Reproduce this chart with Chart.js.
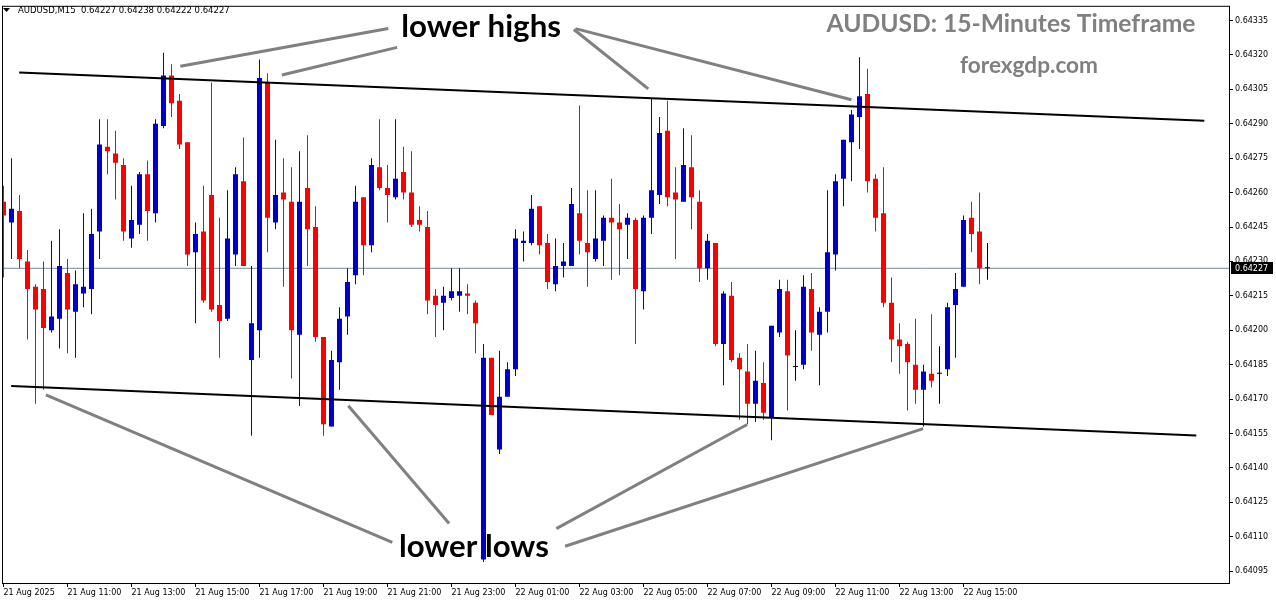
<!DOCTYPE html>
<html>
<head>
<meta charset="utf-8">
<title>AUDUSD M15</title>
<script src="https://cdn.jsdelivr.net/npm/chart.js@4.4.1/dist/chart.umd.min.js"></script>
<style>
    html, body { margin: 0; padding: 0; background: #fff; }
    #wrap { width: 1276px; height: 604px; }
</style>
</head>
<body>
<div id="wrap"><canvas id="chart" width="1276" height="604"></canvas></div>
<script>
// AUDUSD M15 candles, 21 Aug 09:00 -> 22 Aug 15:45 (one entry per 15 min)
const opens = [
    0.64256, 0.64247, 0.64252, 0.64230, 0.64219, 0.64218, 0.64200, 0.64205, 0.64225, 0.64208,
    0.64216, 0.64218, 0.64243, 0.64280, 0.64277, 0.64272, 0.64240, 0.64246, 0.64268, 0.64251,
    0.64289, 0.64311, 0.64300, 0.64282, 0.64234, 0.64243, 0.64259, 0.64211, 0.64205, 0.64233,
    0.64265, 0.64187, 0.64200, 0.64308, 0.64247, 0.64260, 0.64256, 0.64198, 0.64262, 0.64245,
    0.64197, 0.64158, 0.64186, 0.64206, 0.64224, 0.64258, 0.64237, 0.64271, 0.64262, 0.64258,
    0.64269, 0.64260, 0.64248, 0.64245, 0.64215, 0.64212, 0.64214, 0.64215, 0.64216, 0.64212,
    0.64100, 0.64188, 0.64148, 0.64171, 0.64183, 0.64238, 0.64238, 0.64254, 0.64238, 0.64220,
    0.64228, 0.64228, 0.64251, 0.64238, 0.64231, 0.64239, 0.64249, 0.64247, 0.64246, 0.64248,
    0.64217, 0.64249, 0.64259, 0.64287, 0.64260, 0.64256, 0.64271, 0.64256, 0.64227, 0.64238,
    0.64194, 0.64215, 0.64188, 0.64182, 0.64168, 0.64177, 0.64162, 0.64199, 0.64217, 0.64184,
    0.64185, 0.64218, 0.64198, 0.64208, 0.64233, 0.64266, 0.64282, 0.64293, 0.64303, 0.64266,
    0.64251, 0.64212, 0.64196, 0.64194, 0.64185, 0.64174, 0.64181, 0.64181, 0.64183, 0.64211,
    0.64219, 0.64249, 0.64243, 0.64227
];
const highs = [
    0.64263, 0.64275, 0.64259, 0.64235, 0.64220, 0.64230, 0.64239, 0.64244, 0.64231, 0.64226,
    0.64251, 0.64253, 0.64292, 0.64292, 0.64287, 0.64275, 0.64263, 0.64269, 0.64274, 0.64292,
    0.64321, 0.64316, 0.64303, 0.64282, 0.64247, 0.64263, 0.64308, 0.64249, 0.64261, 0.64271,
    0.64284, 0.64228, 0.64318, 0.64312, 0.64283, 0.64275, 0.64271, 0.64278, 0.64285, 0.64254,
    0.64197, 0.64191, 0.64210, 0.64227, 0.64263, 0.64258, 0.64275, 0.64292, 0.64272, 0.64292,
    0.64280, 0.64278, 0.64254, 0.64252, 0.64218, 0.64219, 0.64227, 0.64227, 0.64220, 0.64213,
    0.64194, 0.64188, 0.64191, 0.64186, 0.64244, 0.64243, 0.64259, 0.64254, 0.64242, 0.64240,
    0.64238, 0.64262, 0.64298, 0.64261, 0.64261, 0.64250, 0.64266, 0.64255, 0.64251, 0.64249,
    0.64250, 0.64301, 0.64293, 0.64300, 0.64271, 0.64288, 0.64285, 0.64261, 0.64242, 0.64238,
    0.64217, 0.64221, 0.64190, 0.64194, 0.64191, 0.64186, 0.64202, 0.64222, 0.64222, 0.64200,
    0.64224, 0.64225, 0.64210, 0.64261, 0.64268, 0.64283, 0.64296, 0.64319, 0.64314, 0.64268,
    0.64271, 0.64223, 0.64203, 0.64195, 0.64205, 0.64185, 0.64207, 0.64193, 0.64212, 0.64225,
    0.64250, 0.64256, 0.64260, 0.64238
];
const lows = [
    0.64223, 0.64231, 0.64227, 0.64196, 0.64168, 0.64174, 0.64199, 0.64192, 0.64190, 0.64188,
    0.64210, 0.64207, 0.64231, 0.64268, 0.64257, 0.64239, 0.64236, 0.64242, 0.64239, 0.64247,
    0.64288, 0.64293, 0.64279, 0.64228, 0.64203, 0.64212, 0.64208, 0.64188, 0.64204, 0.64228,
    0.64228, 0.64154, 0.64188, 0.64234, 0.64244, 0.64219, 0.64179, 0.64167, 0.64228, 0.64195,
    0.64154, 0.64158, 0.64174, 0.64198, 0.64220, 0.64224, 0.64234, 0.64261, 0.64247, 0.64257,
    0.64257, 0.64245, 0.64243, 0.64207, 0.64197, 0.64200, 0.64213, 0.64208, 0.64207, 0.64190,
    0.64099, 0.64163, 0.64146, 0.64171, 0.64180, 0.64230, 0.64237, 0.64233, 0.64218, 0.64217,
    0.64223, 0.64228, 0.64233, 0.64219, 0.64230, 0.64228, 0.64222, 0.64224, 0.64231, 0.64194,
    0.64209, 0.64242, 0.64255, 0.64254, 0.64231, 0.64256, 0.64244, 0.64221, 0.64222, 0.64193,
    0.64176, 0.64186, 0.64161, 0.64159, 0.64160, 0.64161, 0.64152, 0.64197, 0.64165, 0.64178,
    0.64183, 0.64191, 0.64176, 0.64199, 0.64226, 0.64254, 0.64265, 0.64279, 0.64260, 0.64243,
    0.64210, 0.64186, 0.64181, 0.64165, 0.64168, 0.64158, 0.64175, 0.64168, 0.64180, 0.64188,
    0.64219, 0.64234, 0.64220, 0.64222
];
const closes = [
    0.64250, 0.64253, 0.64231, 0.64218, 0.64209, 0.64201, 0.64206, 0.64228, 0.64209, 0.64220,
    0.64219, 0.64242, 0.64281, 0.64278, 0.64273, 0.64243, 0.64248, 0.64268, 0.64252, 0.64290,
    0.64311, 0.64299, 0.64281, 0.64233, 0.64242, 0.64213, 0.64209, 0.64204, 0.64240, 0.64268,
    0.64228, 0.64203, 0.64310, 0.64249, 0.64259, 0.64257, 0.64200, 0.64256, 0.64244, 0.64197,
    0.64159, 0.64187, 0.64205, 0.64221, 0.64256, 0.64237, 0.64272, 0.64262, 0.64259, 0.64266,
    0.64260, 0.64246, 0.64246, 0.64213, 0.64211, 0.64215, 0.64217, 0.64217, 0.64215, 0.64203,
    0.64188, 0.64163, 0.64171, 0.64183, 0.64240, 0.64239, 0.64253, 0.64237, 0.64221, 0.64228,
    0.64230, 0.64255, 0.64239, 0.64234, 0.64240, 0.64249, 0.64247, 0.64244, 0.64249, 0.64218,
    0.64249, 0.64261, 0.64286, 0.64258, 0.64257, 0.64272, 0.64258, 0.64227, 0.64239, 0.64194,
    0.64216, 0.64187, 0.64183, 0.64168, 0.64178, 0.64164, 0.64202, 0.64218, 0.64189, 0.64184,
    0.64219, 0.64199, 0.64208, 0.64234, 0.64265, 0.64283, 0.64294, 0.64302, 0.64265, 0.64249,
    0.64212, 0.64196, 0.64193, 0.64186, 0.64174, 0.64182, 0.64178, 0.64181, 0.64210, 0.64218,
    0.64248, 0.64242, 0.64227, 0.64227
];

// time axis labels, every 8th candle (2 hours)
const xTickIndex = [0, 8, 16, 24, 32, 40, 48, 56, 64, 72, 80, 88, 96, 104, 112, 120];
const xTickLabels = [
    '21 Aug 2025', '21 Aug 11:00', '21 Aug 13:00', '21 Aug 15:00', '21 Aug 17:00',
    '21 Aug 19:00', '21 Aug 21:00', '21 Aug 23:00', '22 Aug 01:00', '22 Aug 03:00',
    '22 Aug 05:00', '22 Aug 07:00', '22 Aug 09:00', '22 Aug 11:00', '22 Aug 13:00',
    '22 Aug 15:00'
];
const yTicks = [
    0.64095, 0.64110, 0.64125, 0.64140, 0.64155, 0.64170, 0.64185, 0.64200, 0.64215,
    0.64230, 0.64245, 0.64260, 0.64275, 0.64290, 0.64305, 0.64320, 0.64335
];
const bidPrice = 0.64227;

// channel lines (candle index, price)
const upperChannel = [[1.96, 0.643124], [150.1, 0.642913]];
const lowerChannel = [[0.96, 0.641757], [149.1, 0.641541]];

// pointer lines for the labels
const highPointers = [
    [[22.1, 0.643151], [48.1, 0.643315]],
    [[34.8, 0.643113], [49.2, 0.643233]],
    [[71.3, 0.643311], [80.6, 0.643052]],
    [[71.5, 0.643315], [106.0, 0.643005]]
];
const lowPointers = [
    [[5.3, 0.641718], [48.6, 0.641075]],
    [[43.1, 0.641671], [55.7, 0.641157]],
    [[69.1, 0.641135], [92.96, 0.641589]],
    [[70.2, 0.641058], [114.96, 0.641571]]
];

const BULL = '#0000cd';
const BEAR = '#ff0000';
const DOJI = '#000000';
const TICK_FONT = { family: 'DejaVu Sans', size: 8 };

const candleColors = closes.map((c, i) => c > opens[i] ? BULL : (c < opens[i] ? BEAR : DOJI));
const bodies = opens.map((o, i) => ({ x: i, y: [o, closes[i]] }));
const wicks = lows.map((l, i) => ({ x: i, y: [l, highs[i]] }));
const toPts = seg => seg.map(p => ({ x: p[0], y: p[1] }));

const lineSet = (seg, color, width) => ({
    type: 'line',
    data: toPts(seg),
    borderColor: color,
    borderWidth: width,
    pointRadius: 0,
    tension: 0,
    order: 0
});

function fitFont(ctx, text, weight, family, width) {
    ctx.font = `${weight} 100px ${family}`;
    const size = 100 * width / ctx.measureText(text).width;
    ctx.font = `${weight} ${size.toFixed(2)}px ${family}`;
}

const overlay = {
    id: 'overlay',
    afterDraw(chart) {
        const { ctx, chartArea: a, scales: { x, y } } = chart;
        ctx.save();

        // frame
        ctx.strokeStyle = '#000';
        ctx.lineWidth = 1;
        ctx.strokeRect(a.left + 0.5, a.top - 0.5, a.right - a.left, a.bottom - a.top + 1);

        // header
        ctx.fillStyle = '#000';
        ctx.beginPath();
        ctx.moveTo(a.left + 1, 8);
        ctx.lineTo(a.left + 8, 8);
        ctx.lineTo(a.left + 4.5, 12);
        ctx.closePath();
        ctx.fill();
        ctx.font = '8.5px "DejaVu Sans"';
        ctx.textBaseline = 'middle';
        ctx.textAlign = 'left';
        ctx.fillText('AUDUSD,M15  0.64227 0.64238 0.64222 0.64227', a.left + 16, 10.5);

        // watermark titles
        ctx.fillStyle = '#808080';
        ctx.textAlign = 'center';
        ctx.textBaseline = 'alphabetic';
        fitFont(ctx, 'AUDUSD: 15-Minutes Timeframe', 'bold', 'Lato', 369);
        ctx.fillText('AUDUSD: 15-Minutes Timeframe', 1011, 32);
        fitFont(ctx, 'forexgdp.com', 'bold', 'Lato', 138);
        ctx.fillText('forexgdp.com', 1029, 73);

        // annotation labels
        ctx.fillStyle = '#000';
        fitFont(ctx, 'lower highs', 'bold', 'Lato', 160);
        ctx.fillText('lower highs', x.getPixelForValue(59.7), y.getPixelForValue(0.64328));
        fitFont(ctx, 'lower lows', 'bold', 'Lato', 150);
        ctx.fillText('lower lows', x.getPixelForValue(58.8), y.getPixelForValue(0.64101));

        // bid price tag
        const py = Math.round(y.getPixelForValue(bidPrice));
        ctx.fillStyle = '#000';
        ctx.fillRect(a.right + 2, py - 6, 42, 12);
        ctx.fillStyle = '#fff';
        ctx.font = '8px "DejaVu Sans"';
        ctx.textAlign = 'left';
        ctx.textBaseline = 'middle';
        ctx.fillText(bidPrice.toFixed(5), a.right + 6, py + 0.5);

        ctx.restore();
    }
};

new Chart(document.getElementById('chart'), {
    type: 'bar',
    data: {
        datasets: [
            ...highPointers.map(s => lineSet(s, '#808080', 3)),
            ...lowPointers.map(s => lineSet(s, '#808080', 3)),
            lineSet(upperChannel, '#000', 2),
            lineSet(lowerChannel, '#000', 2),
            {
                label: 'body',
                data: bodies,
                backgroundColor: candleColors,
                barThickness: 5,
                minBarLength: 1,
                grouped: false,
                inflateAmount: 0,
                order: 1
            },
            {
                label: 'wick',
                data: wicks,
                backgroundColor: candleColors,
                barThickness: 1,
                grouped: false,
                inflateAmount: 0,
                order: 2
            },
            {
                type: 'line',
                data: [{ x: -1, y: bidPrice }, { x: 160, y: bidPrice }],
                borderColor: '#778899',
                borderWidth: 1,
                pointRadius: 0,
                order: 3
            }
        ]
    },
    options: {
        responsive: false,
        devicePixelRatio: 1,
        animation: false,
        layout: { padding: { left: 2, top: 1, right: 0, bottom: 0 } },
        plugins: {
            legend: { display: false },
            tooltip: { enabled: false }
        },
        scales: {
            x: {
                type: 'linear',
                position: 'bottom',
                offset: false,
                min: -0.1875,
                max: 153.1875,
                afterBuildTicks: s => { s.ticks = xTickIndex.map(v => ({ value: v })); },
                afterFit: s => { s.height = 21; },
                border: { display: false },
                grid: { drawOnChartArea: false, offset: false, tickLength: 4, color: '#000' },
                ticks: {
                    color: '#000',
                    font: TICK_FONT,
                    autoSkip: false,
                    maxRotation: 0,
                    align: 'start',
                    padding: 1,
                    callback: v => xTickLabels[xTickIndex.indexOf(v)]
                }
            },
            y: {
                type: 'linear',
                position: 'right',
                min: 0.640898,
                max: 0.643410,
                afterBuildTicks: s => { s.ticks = yTicks.map(v => ({ value: v })); },
                afterFit: s => { s.width = 47; },
                border: { display: false },
                grid: { drawOnChartArea: false, tickLength: 4, color: '#000' },
                ticks: {
                    color: '#000',
                    font: TICK_FONT,
                    padding: 2,
                    callback: v => v.toFixed(5)
                }
            }
        }
    },
    plugins: [overlay]
});
</script>
</body>
</html>
